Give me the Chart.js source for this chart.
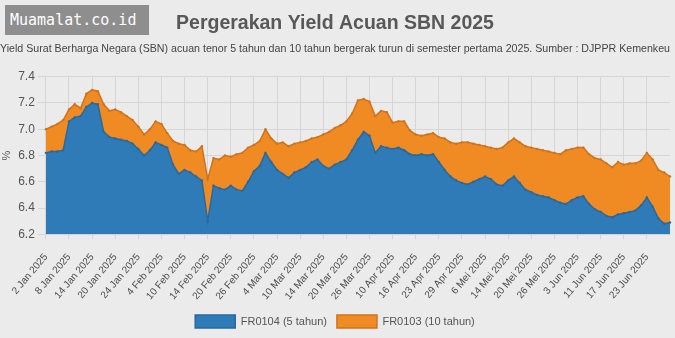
<!DOCTYPE html>
<html>
<head>
<meta charset="utf-8">
<script src="https://cdn.jsdelivr.net/npm/chart.js@4.4.1/dist/chart.umd.min.js"></script>
<style>
    html, body { margin: 0; padding: 0; background: #ebebeb; }
    #wrap { position: relative; width: 675px; height: 338px; }
    #brand {
        position: absolute; left: 5px; top: 5px; width: 144px; height: 30px;
        background: #8e8e8e; color: #fff; box-sizing: border-box; padding-left: 5px;
        font: 15px "DejaVu Sans Mono", monospace; line-height: 30px;
    }
</style>
</head>
<body>
<div id="wrap">
    <canvas id="yieldChart" width="675" height="338"></canvas>
    <div id="brand">Muamalat.co.id</div>
</div>
<script>
// trading days, 2 Jan - 30 Jun 2025
const dates = [
    '2 Jan 2025', '3 Jan 2025', '6 Jan 2025', '7 Jan 2025', '8 Jan 2025', '9 Jan 2025', '10 Jan 2025',
    '13 Jan 2025', '14 Jan 2025', '15 Jan 2025', '16 Jan 2025', '17 Jan 2025', '20 Jan 2025', '21 Jan 2025',
    '22 Jan 2025', '23 Jan 2025', '24 Jan 2025', '30 Jan 2025', '31 Jan 2025',
    '3 Feb 2025', '4 Feb 2025', '5 Feb 2025', '6 Feb 2025', '7 Feb 2025', '10 Feb 2025', '11 Feb 2025',
    '12 Feb 2025', '13 Feb 2025', '14 Feb 2025', '17 Feb 2025', '18 Feb 2025', '19 Feb 2025', '20 Feb 2025',
    '21 Feb 2025', '24 Feb 2025', '25 Feb 2025', '26 Feb 2025', '27 Feb 2025', '28 Feb 2025',
    '3 Mar 2025', '4 Mar 2025', '5 Mar 2025', '6 Mar 2025', '7 Mar 2025', '10 Mar 2025', '11 Mar 2025',
    '12 Mar 2025', '13 Mar 2025', '14 Mar 2025', '17 Mar 2025', '18 Mar 2025', '19 Mar 2025', '20 Mar 2025',
    '21 Mar 2025', '24 Mar 2025', '25 Mar 2025', '26 Mar 2025', '27 Mar 2025',
    '8 Apr 2025', '9 Apr 2025', '10 Apr 2025', '11 Apr 2025', '14 Apr 2025', '15 Apr 2025', '16 Apr 2025',
    '17 Apr 2025', '21 Apr 2025', '22 Apr 2025', '23 Apr 2025', '24 Apr 2025', '25 Apr 2025', '28 Apr 2025',
    '29 Apr 2025', '30 Apr 2025',
    '2 Mei 2025', '5 Mei 2025', '6 Mei 2025', '7 Mei 2025', '8 Mei 2025', '9 Mei 2025', '14 Mei 2025',
    '15 Mei 2025', '16 Mei 2025', '19 Mei 2025', '20 Mei 2025', '21 Mei 2025', '22 Mei 2025', '23 Mei 2025',
    '26 Mei 2025', '27 Mei 2025', '28 Mei 2025',
    '2 Jun 2025', '3 Jun 2025', '4 Jun 2025', '5 Jun 2025', '10 Jun 2025', '11 Jun 2025', '12 Jun 2025',
    '13 Jun 2025', '16 Jun 2025', '17 Jun 2025', '18 Jun 2025', '19 Jun 2025', '20 Jun 2025', '23 Jun 2025',
    '24 Jun 2025', '25 Jun 2025', '26 Jun 2025', '30 Jun 2025'
];

// labels shown under the x axis
const tickLabels = [
    '2 Jan 2025', '8 Jan 2025', '14 Jan 2025', '20 Jan 2025', '24 Jan 2025', '4 Feb 2025', '10 Feb 2025',
    '14 Feb 2025', '20 Feb 2025', '26 Feb 2025', '4 Mar 2025', '10 Mar 2025', '14 Mar 2025', '20 Mar 2025',
    '26 Mar 2025', '10 Apr 2025', '16 Apr 2025', '23 Apr 2025', '29 Apr 2025', '6 Mei 2025', '14 Mei 2025',
    '20 Mei 2025', '26 Mei 2025', '3 Jun 2025', '11 Jun 2025', '17 Jun 2025', '23 Jun 2025'
];

// FR0104, 5 tahun (%)
const fr0104 = [
    6.82, 6.83, 6.83, 6.84, 7.06, 7.09, 7.10, 7.17, 7.20, 7.19,
    6.98, 6.94, 6.93, 6.92, 6.91, 6.89, 6.85, 6.80, 6.84, 6.90,
    6.88, 6.86, 6.73, 6.66, 6.69, 6.67, 6.64, 6.61, 6.30, 6.57,
    6.55, 6.54, 6.57, 6.54, 6.53, 6.60, 6.68, 6.72, 6.82, 6.75,
    6.69, 6.66, 6.63, 6.67, 6.69, 6.71, 6.75, 6.77, 6.72, 6.70,
    6.73, 6.75, 6.77, 6.84, 6.92, 6.98, 6.95, 6.82, 6.87, 6.86,
    6.85, 6.86, 6.84, 6.81, 6.80, 6.81, 6.80, 6.81, 6.75, 6.69,
    6.64, 6.61, 6.59, 6.58, 6.60, 6.62, 6.64, 6.62, 6.58, 6.57,
    6.61, 6.64, 6.59, 6.54, 6.52, 6.50, 6.49, 6.48, 6.46, 6.44,
    6.43, 6.46, 6.48, 6.49, 6.43, 6.39, 6.37, 6.34, 6.33, 6.35,
    6.36, 6.37, 6.38, 6.42, 6.48, 6.41, 6.32, 6.28, 6.29
];

// FR0103, 10 tahun (%)
const fr0103 = [
    7.00, 7.02, 7.04, 7.07, 7.15, 7.19, 7.16, 7.27, 7.30, 7.29,
    7.19, 7.14, 7.15, 7.13, 7.10, 7.07, 7.02, 6.96, 7.00, 7.06,
    7.04, 6.97, 6.91, 6.89, 6.88, 6.84, 6.83, 6.87, 6.62, 6.78,
    6.77, 6.80, 6.79, 6.81, 6.82, 6.86, 6.88, 6.91, 7.00, 6.93,
    6.89, 6.90, 6.87, 6.89, 6.90, 6.91, 6.93, 6.94, 6.96, 6.98,
    7.01, 7.03, 7.06, 7.12, 7.22, 7.23, 7.21, 7.10, 7.14, 7.13,
    7.05, 7.06, 7.06, 6.99, 6.96, 6.95, 6.96, 6.97, 6.94, 6.93,
    6.90, 6.89, 6.90, 6.90, 6.89, 6.88, 6.87, 6.86, 6.85, 6.86,
    6.90, 6.93, 6.90, 6.87, 6.86, 6.85, 6.84, 6.83, 6.82, 6.81,
    6.84, 6.85, 6.86, 6.86, 6.81, 6.78, 6.77, 6.74, 6.71, 6.75,
    6.73, 6.74, 6.74, 6.76, 6.82, 6.77, 6.69, 6.67, 6.64
];

Chart.defaults.font.family = '"Liberation Sans", Arial, sans-serif';

const ctx = document.getElementById('yieldChart');

new Chart(ctx, {
    type: 'line',
    data: {
        labels: dates,
        datasets: [
            {
                label: 'FR0104 (5 tahun)',
                data: fr0104,
                backgroundColor: '#2f7bb8',
                borderColor: '#28699e',
                pointBackgroundColor: '#28699e',
                fill: 'start'
            },
            {
                label: 'FR0103 (10 tahun)',
                data: fr0103,
                backgroundColor: '#f08a22',
                borderColor: '#cf731c',
                pointBackgroundColor: '#cf731c',
                fill: 'start'
            }
        ]
    },
    options: {
        responsive: false,
        animation: false,
        devicePixelRatio: 1,
        layout: {
            padding: { left: 0, right: 5, top: 0, bottom: 0 }
        },
        elements: {
            line: { borderWidth: 1.5, tension: 0 },
            point: { radius: 1.2, borderWidth: 0 }
        },
        plugins: {
            title: {
                display: true,
                text: 'Pergerakan Yield Acuan SBN 2025',
                color: '#585858',
                font: { size: 19.5, weight: 'bold' },
                padding: { top: 12, bottom: 4 }
            },
            subtitle: {
                display: true,
                text: 'Yield Surat Berharga Negara (SBN) acuan tenor 5 tahun dan 10 tahun bergerak turun di semester pertama 2025. Sumber : DJPPR Kemenkeu',
                color: '#444',
                font: { size: 11.1 },
                padding: { top: 3, bottom: 21 }
            },
            legend: {
                position: 'bottom',
                labels: {
                    boxWidth: 40,
                    boxHeight: 13,
                    color: '#555',
                    font: { size: 11 }
                }
            },
            tooltip: { enabled: false }
        },
        scales: {
            x: {
                grid: { color: '#d5d5d5', tickLength: 5 },
                border: { color: '#d5d5d5' },
                afterFit: (scale) => { scale.height -= 9; },
                ticks: {
                    autoSkip: false,
                    minRotation: 50,
                    maxRotation: 50,
                    padding: 12,
                    color: '#4a4a4a',
                    font: { size: 10 },
                    callback: function (value) {
                        const label = this.getLabelForValue(value);
                        return tickLabels.includes(label) ? label : null;
                    }
                }
            },
            y: {
                min: 6.2,
                max: 7.4,
                grid: { color: '#d5d5d5' },
                border: { color: '#d5d5d5' },
                ticks: {
                    stepSize: 0.2,
                    color: '#555',
                    font: { size: 12 },
                    callback: (v) => v.toFixed(1)
                },
                title: {
                    display: true,
                    text: '%',
                    color: '#555',
                    font: { size: 11 },
                    padding: { top: 0, bottom: 2 }
                }
            }
        }
    }
});
</script>
</body>
</html>
